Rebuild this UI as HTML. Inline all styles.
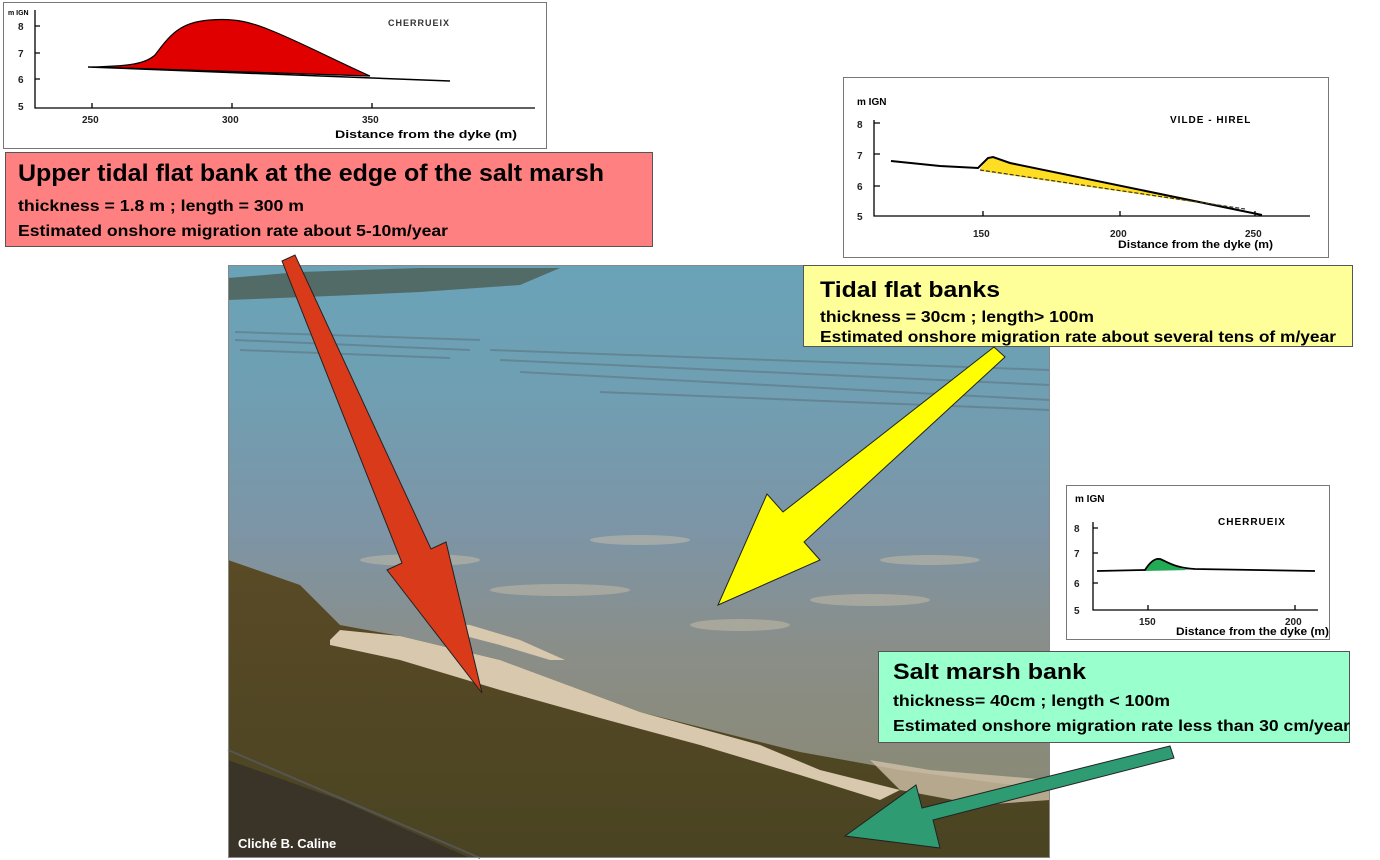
<!DOCTYPE html>
<html><head><meta charset="utf-8"><style>
html,body{margin:0;padding:0;background:#fff;}
svg{display:block;}
text{font-family:"Liberation Sans",sans-serif;}
</style></head><body>
<svg width="1380" height="860" viewBox="0 0 1380 860" xmlns="http://www.w3.org/2000/svg">
<defs>
<linearGradient id="sea" x1="0" y1="0" x2="0" y2="1">
<stop offset="0" stop-color="#6aa3b8"/>
<stop offset="0.2" stop-color="#6f9fb3"/>
<stop offset="0.45" stop-color="#7d95a6"/>
<stop offset="0.65" stop-color="#8a8e88"/>
<stop offset="0.85" stop-color="#8a8a78"/>
<stop offset="1" stop-color="#808070"/>
</linearGradient>
<linearGradient id="dark" x1="0" y1="0" x2="0" y2="1">
<stop offset="0" stop-color="#5a4a26"/>
<stop offset="1" stop-color="#4a4422"/>
</linearGradient>
</defs>

<!-- PHOTO -->
<rect x="228" y="265" width="822" height="593" fill="url(#sea)"/>
<polygon points="228,278 300,272 420,268 560,268 520,285 420,292 330,296 228,300" fill="#4d6258" opacity="0.85"/>
<g stroke="#5a6e7a" stroke-width="2" opacity="0.5">
<line x1="235" y1="332" x2="480" y2="340"/><line x1="235" y1="340" x2="470" y2="350"/><line x1="240" y1="350" x2="450" y2="358"/>
<line x1="490" y1="350" x2="1050" y2="370"/><line x1="500" y1="360" x2="1050" y2="385"/><line x1="520" y1="372" x2="1050" y2="400"/>
<line x1="600" y1="392" x2="1050" y2="410"/>
</g>
<g fill="#d0c4ac" opacity="0.45">
<ellipse cx="420" cy="560" rx="60" ry="6"/><ellipse cx="560" cy="590" rx="70" ry="6"/><ellipse cx="740" cy="625" rx="50" ry="6"/>
<ellipse cx="870" cy="600" rx="60" ry="6"/><ellipse cx="640" cy="540" rx="50" ry="5"/><ellipse cx="930" cy="560" rx="50" ry="5"/>
</g>
<polygon points="228,560 300,585 340,625 400,636 500,660 640,712 800,752 900,770 1050,790 1050,858 228,858" fill="url(#dark)"/>
<polygon points="330,640 340,630 400,636 500,660 640,712 760,745 820,770 900,790 880,800 800,775 700,745 600,718 500,690 400,660 330,645" fill="#d8c8ae"/>
<polygon points="431,622 470,625 520,640 565,660 550,660 500,645 450,632" fill="#d8c8ae"/>
<polygon points="870,760 930,770 1050,780 1050,800 980,805 900,790" fill="#cfc0a8" opacity="0.8"/>
<polygon points="228,760 340,800 470,858 228,858" fill="#3a3428"/>
<line x1="228" y1="750" x2="480" y2="858" stroke="#555" stroke-width="2"/>
<text x="238" y="848" font-size="13" font-weight="bold" fill="#fff">Cliché B.  Caline</text>
<rect x="228.5" y="265.5" width="821" height="592" fill="none" stroke="#888"/>

<!-- TOP LEFT CHART -->
<rect x="3.5" y="2.5" width="543" height="146" fill="#fff" stroke="#777"/>
<text x="8" y="15" font-size="7" font-weight="bold">m IGN</text>
<g font-size="10" font-weight="bold" fill="#222">
<text x="18" y="30">8</text><text x="18" y="57">7</text><text x="18" y="83">6</text><text x="18" y="110">5</text>
<text x="82" y="123">250</text><text x="222" y="123">300</text><text x="362" y="123">350</text>
</g>
<path d="M35,10 V108 H535 M35,26 H40 M35,53 H40 M35,79 H40 M92,108 V103 M232,108 V103 M372,108 V103" stroke="#000" stroke-width="1.3" fill="none"/>
<path d="M92,67 C130,66 145,64 155,55 C170,35 180,22 210,20 C235,18 250,22 270,30 C300,42 330,58 370,76 L92,67 Z" fill="#e00000" stroke="#000" stroke-width="1.2"/>
<line x1="88" y1="67" x2="450" y2="81" stroke="#000" stroke-width="1.5"/>
<text x="388" y="26" font-size="9" font-weight="bold" fill="#333" letter-spacing="1">CHERRUEIX</text>
<text x="335" y="138" font-size="11" font-weight="bold" textLength="182" lengthAdjust="spacingAndGlyphs">Distance from the dyke (m)</text>

<!-- RED BOX -->
<rect x="5.5" y="152.5" width="647" height="94" fill="#ff8080" stroke="#555"/>
<text x="18" y="181" font-size="24" font-weight="bold" textLength="586" lengthAdjust="spacingAndGlyphs">Upper tidal flat bank at the edge of the salt marsh</text>
<text x="18" y="211" font-size="16" font-weight="bold" textLength="286" lengthAdjust="spacingAndGlyphs">thickness = 1.8 m ; length = 300 m</text>
<text x="18" y="236" font-size="16" font-weight="bold" textLength="430" lengthAdjust="spacingAndGlyphs">Estimated onshore migration rate about 5-10m/year</text>

<!-- VILDE CHART -->
<rect x="843.5" y="77.5" width="485" height="180" fill="#fff" stroke="#777"/>
<text x="857" y="105" font-size="10" font-weight="bold">m  IGN</text>
<text x="1170" y="123" font-size="10" font-weight="bold" letter-spacing="1">VILDE - HIREL</text>
<g font-size="10" font-weight="bold" fill="#222">
<text x="857" y="128">8</text><text x="857" y="159">7</text><text x="857" y="190">6</text><text x="857" y="220">5</text>
<text x="973" y="237">150</text><text x="1110" y="237">200</text><text x="1245" y="237">250</text>
</g>
<path d="M874,120 V216 H1310 M874,123 H880 M874,154 H880 M874,186 H880 M983,216 V211 M1120,216 V211 M1255,216 V211" stroke="#000" stroke-width="1.3" fill="none"/>
<path d="M980,169 L988,158 L993,157 L1010,163 L1240,209 L1240,209 L980,171 Z" fill="#ffdd22"/>
<path d="M891,161 L940,166 L978,168 L988,158 L993,157 L1010,163 L1262,215" stroke="#000" stroke-width="2" fill="none"/>
<line x1="980" y1="170" x2="1245" y2="209" stroke="#333" stroke-width="1.2" stroke-dasharray="4,2"/>
<text x="1118" y="248" font-size="11" font-weight="bold" textLength="155" lengthAdjust="spacingAndGlyphs">Distance from the dyke (m)</text>

<!-- YELLOW BOX -->
<rect x="803.5" y="265.5" width="549" height="81" fill="#ffff99" stroke="#555"/>
<text x="820" y="297" font-size="22" font-weight="bold" textLength="180" lengthAdjust="spacingAndGlyphs">Tidal flat banks</text>
<text x="820" y="322" font-size="16" font-weight="bold" textLength="274" lengthAdjust="spacingAndGlyphs">thickness = 30cm ; length&gt; 100m</text>
<text x="820" y="342" font-size="16" font-weight="bold" textLength="516" lengthAdjust="spacingAndGlyphs">Estimated onshore migration rate about several tens of m/year</text>

<!-- SMALL CHERRUEIX -->
<rect x="1066.5" y="485.5" width="263" height="154" fill="#fff" stroke="#777"/>
<text x="1075" y="502" font-size="10" font-weight="bold">m  IGN</text>
<text x="1218" y="525" font-size="10" font-weight="bold" letter-spacing="1">CHERRUEIX</text>
<g font-size="10" font-weight="bold" fill="#222">
<text x="1074" y="532">8</text><text x="1074" y="557">7</text><text x="1074" y="587">6</text><text x="1074" y="614">5</text>
<text x="1139" y="625">150</text><text x="1285" y="625">200</text>
</g>
<path d="M1093,522 V610 H1318 M1093,528 H1098 M1093,553 H1098 M1093,583 H1098 M1148,610 V605 M1295,610 V605" stroke="#000" stroke-width="1.3" fill="none"/>
<path d="M1145,571 C1150,562 1155,558 1160,559 C1168,562 1175,568 1190,570 L1145,571 Z" fill="#22aa55"/>
<path d="M1097,571 L1145,570 C1150,562 1155,558 1160,559 C1168,562 1175,568 1195,569 L1315,571" stroke="#000" stroke-width="1.8" fill="none"/>
<text x="1176" y="635" font-size="11" font-weight="bold" textLength="153" lengthAdjust="spacingAndGlyphs">Distance from the dyke (m)</text>

<!-- GREEN BOX -->
<rect x="878.5" y="651.5" width="471" height="91" fill="#99ffcc" stroke="#555"/>
<text x="893" y="679" font-size="22" font-weight="bold" textLength="193" lengthAdjust="spacingAndGlyphs">Salt marsh bank</text>
<text x="893" y="706" font-size="16" font-weight="bold" textLength="277" lengthAdjust="spacingAndGlyphs">thickness= 40cm ; length &lt; 100m</text>
<text x="893" y="731" font-size="16" font-weight="bold" textLength="457" lengthAdjust="spacingAndGlyphs">Estimated onshore migration rate less than 30 cm/year</text>

<!-- ARROWS -->
<polygon points="282,261 295,255 431,549 446,542 482,693 387,570 402,563" fill="#d83a1a" stroke="#222" stroke-width="1"/>
<polygon points="994,347 1005,357 804,542 820,560 718,605 767,494 783,512" fill="#ffff00" stroke="#222" stroke-width="1"/>
<polygon points="1170,746 1174,758 933,820 940,848 845,836 916,785 922,808" fill="#2e9b72" stroke="#222" stroke-width="1"/>
</svg>
</body></html>
